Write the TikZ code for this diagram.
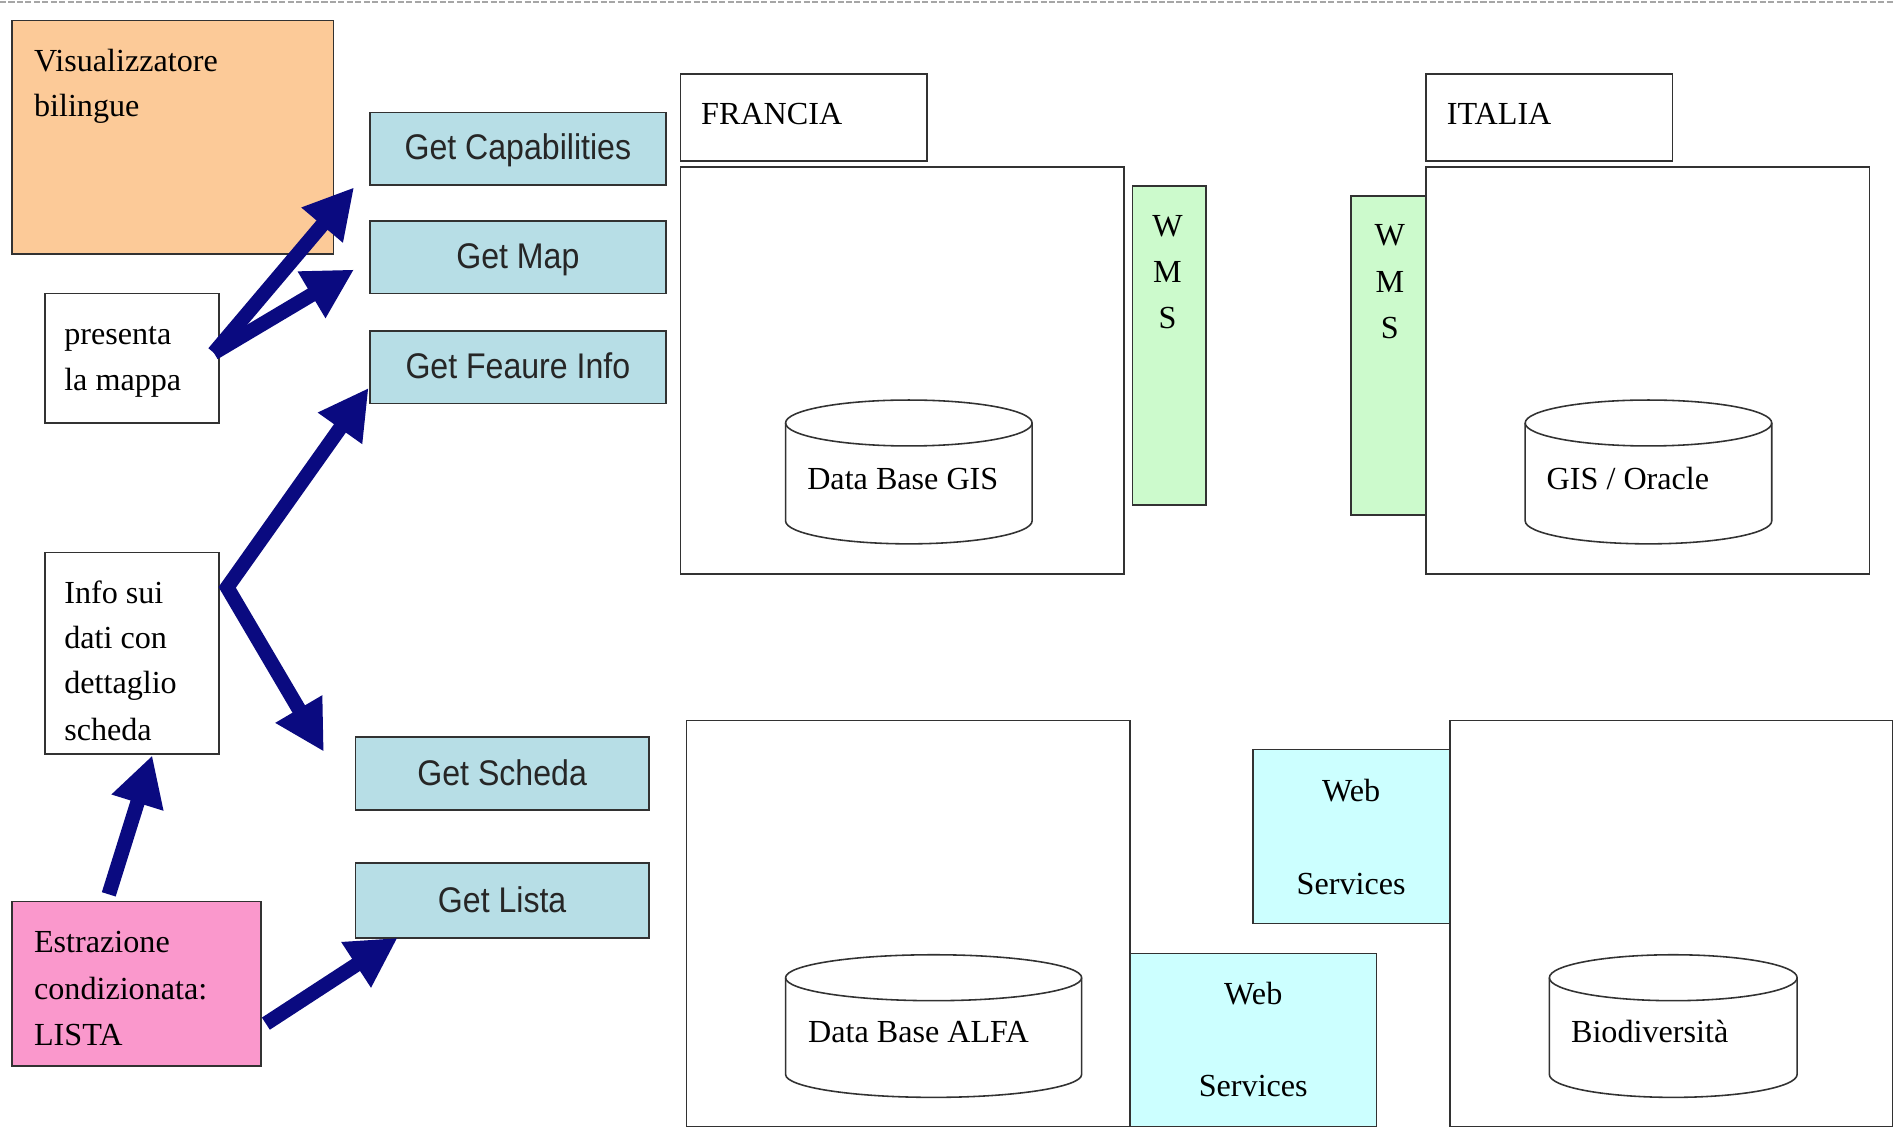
\documentclass[tikz,border=0pt]{standalone}
\usepackage{fontspec}
\setmainfont{Liberation Serif}
\newfontfamily\arialf{Liberation Sans}[FakeStretch=0.9]
\usetikzlibrary{arrows.meta,fit,calc}
\definecolor{peach}{RGB}{252,202,152}
\definecolor{pinkbox}{RGB}{250,152,204}
\definecolor{getblue}{RGB}{183,222,230}
\definecolor{wmsgreen}{RGB}{204,250,204}
\definecolor{wscyan}{RGB}{204,255,255}
\definecolor{navy}{RGB}{10,10,128}
\definecolor{edge}{RGB}{50,50,50}
\begin{document}
\begin{tikzpicture}[x=1pt,y=-1pt,
  box/.style={draw=edge, line width=1.3pt, inner sep=0pt, fill=white},
  getbox/.style={box, fill=getblue},
  gtext/.style={anchor=base, inner sep=0pt, font=\arialf\fontsize{29.5}{34}\selectfont, text=black!85},
  lbl/.style={anchor=base west, inner sep=0pt, font=\fontsize{26.6}{32}\selectfont},
  clbl/.style={anchor=base, inner sep=0pt, font=\fontsize{26.6}{32}\selectfont},
  cyl/.style={draw=edge, line width=1.3pt, fill=white},
  arr/.style={draw=navy, line width=12pt, -{Triangle[length=41pt,width=42pt]}},
  arrtwo/.style={draw=navy, line width=12pt, line join=miter, {Triangle[length=41pt,width=42pt]}-{Triangle[length=41pt,width=42pt]}}
]
\useasboundingbox (0,0) rectangle (1568,934);
\fill[white] (0,0) rectangle (1568,934);
\draw[black!35, line width=2pt, dash pattern=on 5pt off 2pt] (0,1.5) -- (1568,1.5);

% left column
\node[box, fill=peach, fit={(10,17) (276,210)}] (vis) {};
\node[lbl] (vis1) at (28,59) {Visualizzatore};
\node[lbl] (vis2) at (28,96) {bilingue};

\node[box, fit={(37,243) (181,350)}] (pres) {};
\node[lbl] (pres1) at (53,285) {presenta};
\node[lbl] (pres2) at (53,323) {la mappa};

\node[box, fit={(37,457) (181,624)}] (info) {};
\node[lbl] (info1) at (53,499) {Info sui};
\node[lbl] (info2) at (53,537) {dati con};
\node[lbl] (info3) at (53,574) {dettaglio};
\node[lbl] (info4) at (53,613) {scheda};

\node[box, fill=pinkbox, fit={(10,746) (216,882)}] (estr) {};
\node[lbl] (estr1) at (28,788) {Estrazione};
\node[lbl] (estr2) at (28,827) {condizionata:};
\node[lbl] (estr3) at (28,865) {LISTA};

% request boxes
\node[getbox, fit={(306,93) (551,153)}] (gc) {};
\node[gtext] (gct) at (428.5,132) {Get Capabilities};
\node[getbox, fit={(306,183) (551,243)}] (gm) {};
\node[gtext] (gmt) at (428.5,222) {Get Map};
\node[getbox, fit={(306,274) (551,334)}] (gfi) {};
\node[gtext] (gfit) at (428.5,313) {Get Feaure Info};
\node[getbox, fit={(294,610) (537,670)}] (gs) {};
\node[gtext] (gst) at (415.5,650) {Get Scheda};
\node[getbox, fit={(294,714) (537,776)}] (gl) {};
\node[gtext] (glt) at (415.5,755) {Get Lista};

% FRANCIA
\node[box, fit={(563,61) (767,133)}] (frh) {};
\node[lbl] (frt) at (580,103) {FRANCIA};
\node[box, fit={(563,138) (930,475)}] (frb) {};
\node[box, fill=wmsgreen, fit={(937,154) (998,418)}] (wmsf) {};
\node[clbl] (wf1) at (966,196) {W};
\node[clbl] (wf2) at (966,234) {M};
\node[clbl] (wf3) at (966,272) {S};
\draw[cyl] (650,350) -- (650,431) arc[start angle=180,end angle=360,x radius=102pt,y radius=19pt]
  -- (854,350) arc[start angle=0,end angle=180,x radius=102pt,y radius=19pt] -- cycle;
\draw[cyl, fill=none] (650,350) arc[start angle=180,end angle=360,x radius=102pt,y radius=19pt];
\node[clbl] (dbgis) at (747,405) {Data Base GIS};

% ITALIA
\node[box, fit={(1180,61) (1384,133)}] (ith) {};
\node[lbl] (itt) at (1197,103) {ITALIA};
\node[box, fit={(1180,138) (1547,475)}] (itb) {};
\node[box, fill=wmsgreen, fit={(1118,162) (1180,426)}] (wmsi) {};
\node[clbl] (wi1) at (1150,203) {W};
\node[clbl] (wi2) at (1150,242) {M};
\node[clbl] (wi3) at (1150,280) {S};
\draw[cyl] (1262,350) -- (1262,431) arc[start angle=180,end angle=360,x radius=102pt,y radius=19pt]
  -- (1466,350) arc[start angle=0,end angle=180,x radius=102pt,y radius=19pt] -- cycle;
\draw[cyl, fill=none] (1262,350) arc[start angle=180,end angle=360,x radius=102pt,y radius=19pt];
\node[clbl] (gisor) at (1347,405) {GIS / Oracle};

% ALFA
\node[box, fit={(568,596) (935,932)}] (alfa) {};
\draw[cyl] (650,809) -- (650,889) arc[start angle=180,end angle=360,x radius=122.5pt,y radius=19pt]
  -- (895,809) arc[start angle=0,end angle=180,x radius=122.5pt,y radius=19pt] -- cycle;
\draw[cyl, fill=none] (650,809) arc[start angle=180,end angle=360,x radius=122.5pt,y radius=19pt];
\node[clbl] (dbalfa) at (760,863) {Data Base ALFA};

% Biodiversita
\node[box, fit={(1200,596) (1566,932)}] (bio) {};
\draw[cyl] (1282,809) -- (1282,889) arc[start angle=180,end angle=360,x radius=102.5pt,y radius=19pt]
  -- (1487,809) arc[start angle=0,end angle=180,x radius=102.5pt,y radius=19pt] -- cycle;
\draw[cyl, fill=none] (1282,809) arc[start angle=180,end angle=360,x radius=102.5pt,y radius=19pt];
\node[clbl] (biot) at (1365,863) {Biodiversità};

% web services
\node[box, fill=wscyan, fit={(935,789) (1139,932)}] (ws1) {};
\node[clbl] (ws1a) at (1037,831) {Web};
\node[clbl] (ws1b) at (1037,907) {Services};
\node[box, fill=wscyan, fit={(1037,620) (1200,764)}] (ws2) {};
\node[clbl] (ws2a) at (1118,663) {Web};
\node[clbl] (ws2b) at (1118,740) {Services};

% arrows
\coordinate (ps) at (177,292);
\coordinate (tgc) at (293,155);
\coordinate (tgm) at (293,223);
\coordinate (fork) at (188,486);
\coordinate (tgfi) at (305,321);
\coordinate (tgs) at (268,622);
\coordinate (es) at (90,740);
\coordinate (tinfo) at (126,625);
\coordinate (el) at (220,847);
\coordinate (tgl) at (329,776);

\draw[arr] (ps) -- (tgc);
\draw[arr] (ps) -- (tgm);
\draw[arrtwo] (tgfi) -- (fork) -- (tgs);
\draw[arr] (es) -- (tinfo);
\draw[arr] (el) -- (tgl);
\end{tikzpicture}
\end{document}
